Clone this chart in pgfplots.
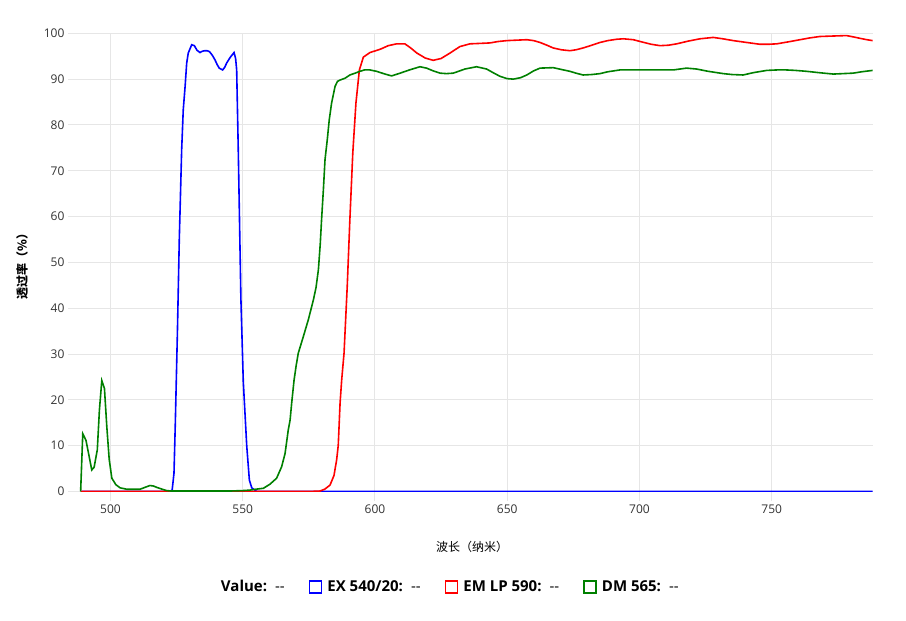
\documentclass[border=0pt]{standalone}
\usepackage{fontspec}
\setmainfont{Open Sans}
\newfontfamily\cjk{Noto Sans CJK SC}
\usepackage{pgfplots}
\pgfplotsset{compat=1.18}
\usepackage{pgfplotstable}
\definecolor{gridc}{HTML}{E6E6E6}
\definecolor{labc}{HTML}{333333}
\definecolor{exblue}{HTML}{0000FF}
\definecolor{emred}{HTML}{FF0000}
\definecolor{dmgreen}{HTML}{008000}

\pgfplotstableread{
x y
489 0
522.5 0
523.3 0.3
524 4
524.5 15
525.3 35
526 55
526.9 74.6
527.5 83.3
528.2 88.4
528.8 93.5
529.4 95.7
530.7 97.5
531.7 97.3
532.7 96.3
533.8 95.8
534.8 96.1
535.7 96.2
536.5 96.2
537.4 96.0
538.5 95.2
539.5 94.2
540.3 93.2
541.1 92.4
542.4 92.0
543.2 92.6
543.9 93.5
545.2 94.7
546.7 95.8
547.3 94.5
547.7 92
548.3 74.6
549.3 42
550.2 24
551.5 10
552.5 2.5
553.4 0.8
555.3 0
788.2 0
}\exdata

\pgfplotstableread{
x y
488.7 0
575 0
579.2 0.1
581 0.5
583 1.4
584.5 3.5
585.5 6.9
586.1 10
586.8 19.3
587.4 24.3
588.3 30.2
589.5 44.7
590.5 59.3
591.6 73.8
592.8 84.8
594.1 92
595.6 94.8
598.1 95.8
601.9 96.5
603.1 96.8
605 97.3
608.2 97.7
611.3 97.7
613.5 96.8
615.8 95.7
619 94.6
622 94.1
625 94.5
628.4 95.7
632.1 97.1
635.9 97.7
640 97.8
643.5 97.9
646.5 98.2
649.8 98.4
653.5 98.5
657.4 98.6
660 98.4
662.4 98.0
665 97.4
667.4 96.8
670.5 96.4
673.7 96.2
676 96.4
678.7 96.8
682 97.4
685.1 98.0
688 98.4
691.4 98.7
693.9 98.8
697.7 98.6
701 98.1
704.5 97.6
707.8 97.3
711 97.4
714.1 97.7
718.5 98.3
722.9 98.8
727.9 99.1
731.5 98.8
735.5 98.4
740.5 98.0
745.6 97.6
748.7 97.6
751.9 97.7
756 98.1
760.7 98.6
764.5 99.0
768.2 99.3
773 99.4
778.3 99.5
781 99.2
783.4 98.9
786 98.6
788.2 98.4
}\emdata

\pgfplotstableread{
x y
488.7 0
489.5 12.6
490.7 11.2
491.8 8
492.9 4.7
493.8 5.3
495 9.1
495.8 17.8
496.7 24.2
497.7 22.5
498.6 14.1
499.5 7
500.5 2.9
502 1.5
503.6 0.8
506.1 0.5
511.2 0.5
513 0.9
514.9 1.3
516.2 1.2
517.5 0.9
519.5 0.5
521.2 0.2
523 0.1
545 0.1
550 0.2
552.7 0.3
555 0.5
557.8 0.7
560.3 1.6
562.8 2.9
564.7 5.4
566 8.3
567.2 13.4
567.9 15.6
568.5 19.3
569.4 24.3
570.2 27.5
571 30.2
572.9 33.8
574.8 37.5
576.7 41.8
577.7 44.5
578.6 48.4
579.3 54
579.8 59.3
580.5 66
581.1 72.4
582 77
582.7 81.1
583.6 84.8
584.9 88.4
585.8 89.5
586.8 89.8
588.7 90.2
590.5 90.9
592.5 91.3
594.3 91.7
596 92
598.1 92
600.6 91.7
603.8 91.1
606.3 90.7
609.5 91.3
613 92
617 92.7
619.5 92.4
622 91.8
624.6 91.3
627 91.2
629.6 91.3
634 92.2
638.4 92.7
642.2 92.2
645 91.3
647.3 90.6
650 90.1
652.3 90
655 90.3
657.4 90.9
660 91.8
662.4 92.4
667.4 92.5
670.5 92.1
673.7 91.7
676 91.3
678.7 90.9
682 91
685.1 91.2
688 91.6
692.6 92
700 92
707 92
712.8 92
717.8 92.4
721.6 92.2
726 91.7
731.7 91.2
735 91
739.2 90.9
743 91.4
748.1 91.9
752 92
755.6 92
759 91.9
763.2 91.7
768 91.4
773.3 91.1
777 91.2
780.8 91.3
784 91.6
788.2 91.9
}\dmdata

\begin{document}
\begin{tikzpicture}
\useasboundingbox (0pt,0pt) rectangle (906pt,621pt);
\begin{axis}[
  at={(78pt,129.5pt)}, anchor=south west,
  scale only axis, width=794.7pt, height=458.2pt,
  xmin=487.7, xmax=788.2, ymin=0, ymax=100,
  xtick={500,550,...,750}, ytick={0,10,...,100},
  xtick pos=lower, ytick pos=left,
  grid=major, major grid style={color=gridc, line width=1pt},
  axis line style={draw=none},
  tick style={color=gridc, line width=1pt},
  major tick length=10pt, tick align=outside,
  /pgf/number format/assume math mode=true,
  tick label style={font=\fontsize{12}{14}\selectfont, text=labc},
  xlabel={\cjk 波长（纳米）},
  ylabel={\cjk\bfseries 透过率（\%）},
  xlabel style={font=\fontsize{12}{14}\selectfont, text=black, at={(axis description cs:0.496,0)}, anchor=center, yshift=-55.5pt},
  ylabel style={font=\fontsize{12}{14}\selectfont, text=black, at={(axis description cs:0,0.497)}, anchor=center, yshift=56pt},
  legend columns=4,
  legend style={draw=none, fill=none, at={(axis description cs:0.466,-0.2084)}, anchor=center,
    font=\fontsize{15}{17}\selectfont, text=black,
    /tikz/every odd column/.style={column sep=3pt},
    /tikz/every even column/.style={column sep=22pt},
    inner sep=0pt},
  legend image code/.code={\draw[line width=1.7pt] (0pt,-6pt) rectangle (12pt,6pt);},
  legend cell align=left,
]
\addlegendimage{empty legend}
\addlegendentry{\textbf{Value:}\hspace{8pt}-{}-}
\addplot[exblue, line width=1.6pt] table[x=x,y=y] {\exdata};
\addlegendentry{\textbf{EX 540/20:}\hspace{8pt}-{}-}
\addplot[emred, line width=1.6pt] table[x=x,y=y] {\emdata};
\addlegendentry{\textbf{EM LP 590:}\hspace{8pt}-{}-}
\addplot[dmgreen, line width=1.6pt] table[x=x,y=y] {\dmdata};
\addlegendentry{\textbf{DM 565:}\hspace{8pt}-{}-}
\end{axis}
\end{tikzpicture}
\end{document}
